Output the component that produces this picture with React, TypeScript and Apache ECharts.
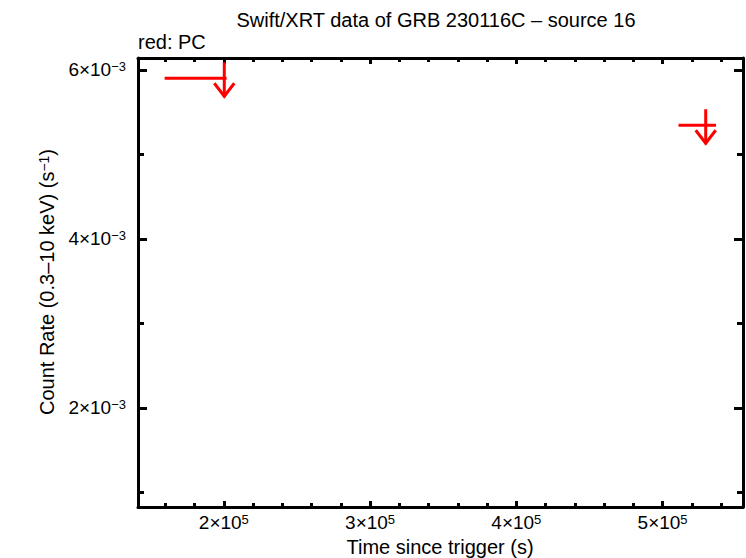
import React, { useEffect, useRef } from "react";
import * as echarts from "echarts";

// ---- data ----
const ulTime = [200300, 529500];
const ulTimeLo = [159500, 510900];
const ulTimeHi = [201900, 536600];
const ulRate = [0.005902, 0.005346];

const xMajorTicks = [200000, 300000, 400000, 500000];
const xMinorTicks = [160000, 180000, 220000, 240000, 260000, 280000, 320000, 340000, 360000, 380000, 420000, 440000, 460000, 480000, 520000, 540000];
const yMajorTicks = [0.002, 0.004, 0.006];
const yMinorTicks = [0.001, 0.003, 0.005];

const X_MIN = 141300;
const X_MAX = 555000;
const Y_MIN = 0.000828;
const Y_MAX = 0.006142;

const FONT = "'Liberation Sans', Arial, Helvetica, sans-serif";
const RED = "#ff0000";

const tickRich = {
  m: { fontSize: 19, fontFamily: FONT, color: "#000", verticalAlign: "top" },
  s: { fontSize: 13, fontFamily: FONT, color: "#000", verticalAlign: "top" },
};
const titleRich = {
  m: { fontSize: 20, fontFamily: FONT, color: "#000", verticalAlign: "top" },
  s: { fontSize: 14, fontFamily: FONT, color: "#000", verticalAlign: "top" },
};

function sci(v: number): string {
  const e = Math.floor(Math.log10(v) + 1e-9);
  const m = Math.round(v / Math.pow(10, e));
  const es = e < 0 ? "\u2212" + String(-e) : String(e);
  return `{m|${m}\u00d710}{s|${es}}`;
}

export default function App() {
  const ref = useRef<HTMLDivElement>(null);
  useEffect(() => {
    document.body.style.margin = "0";
    if (!ref.current) return;
    const chart = echarts.init(ref.current, null, { renderer: "svg" });
    const data = ulTime.map((t, i) => [t, ulTimeLo[i], ulTimeHi[i], ulRate[i]]);

    const axisLineStyle = { show: true, lineStyle: { color: "#000", width: 3 } };
    const tickLine = { color: "#000", width: 3 };
    const mkAxis = (
      position: string,
      min: number,
      max: number,
      ticks: number[],
      len: number,
      labels: boolean,
      line: boolean,
      margin: number
    ) => ({
      type: "value",
      position,
      min,
      max,
      gridIndex: 0,
      axisLine: line ? axisLineStyle : { show: false },
      axisTick: { show: true, inside: true, length: len, customValues: ticks, lineStyle: tickLine },
      axisLabel: labels
        ? { show: true, customValues: ticks, margin, formatter: (v: number) => sci(v), rich: tickRich }
        : { show: false },
      splitLine: { show: false },
    });

    chart.setOption({
      animation: false,
      backgroundColor: "#fff",
      grid: { left: 138, right: 3, top: 58, bottom: 51, containLabel: false },
      xAxis: [
        mkAxis("bottom", X_MIN, X_MAX, xMajorTicks, 6, true, true, 6),
        mkAxis("bottom", X_MIN, X_MAX, xMinorTicks, 4, false, false, 0),
        mkAxis("top", X_MIN, X_MAX, xMajorTicks, 6, false, true, 0),
        mkAxis("top", X_MIN, X_MAX, xMinorTicks, 4, false, false, 0),
      ],
      yAxis: [
        mkAxis("left", Y_MIN, Y_MAX, yMajorTicks, 9, true, true, 12),
        mkAxis("left", Y_MIN, Y_MAX, yMinorTicks, 6, false, false, 0),
        mkAxis("right", Y_MIN, Y_MAX, yMajorTicks, 9, false, true, 0),
        mkAxis("right", Y_MIN, Y_MAX, yMinorTicks, 6, false, false, 0),
      ],
      graphic: [
        {
          type: "text",
          x: 436,
          y: 20,
          style: { text: "Swift/XRT data of GRB 230116C \u2013 source 16", font: `20px ${FONT}`, fill: "#000", align: "center", verticalAlign: "middle" },
        },
        {
          type: "text",
          x: 138,
          y: 42,
          style: { text: "red: PC", font: `20px ${FONT}`, fill: "#000", align: "left", verticalAlign: "middle" },
        },
        {
          type: "text",
          x: 440,
          y: 547,
          style: { text: "Time since trigger (s)", font: `20px ${FONT}`, fill: "#000", align: "center", verticalAlign: "middle" },
        },
        {
          type: "text",
          x: 47,
          y: 282,
          rotation: Math.PI / 2,
          style: {
            text: "{m|Count Rate (0.3\u201310 keV) (s}{s|\u22121}{m|)}",
            rich: titleRich,
            align: "center",
            verticalAlign: "middle",
          },
        },
      ],
      series: [
        {
          type: "custom",
          xAxisIndex: 0,
          yAxisIndex: 0,
          clip: true,
          data,
          renderItem: (params: any, api: any) => {
            const c = api.coord([api.value(0), api.value(3)]);
            const l = api.coord([api.value(1), api.value(3)]);
            const r = api.coord([api.value(2), api.value(3)]);
            const st = { stroke: RED, lineWidth: 3, fill: "none" };
            return {
              type: "group",
              children: [
                { type: "line", shape: { x1: l[0], y1: l[1], x2: r[0], y2: r[1] }, style: st },
                { type: "line", shape: { x1: c[0], y1: c[1] - 16, x2: c[0], y2: c[1] + 19 }, style: st },
                { type: "polyline", shape: { points: [[c[0] - 10, c[1] + 5], [c[0], c[1] + 18], [c[0] + 10, c[1] + 5]] }, style: st },
              ],
            };
          },
        },
      ],
    });
    return () => chart.dispose();
  }, []);
  return <div ref={ref} style={{ width: 746, height: 558, position: "fixed", left: 0, top: 0 }} />;
}
